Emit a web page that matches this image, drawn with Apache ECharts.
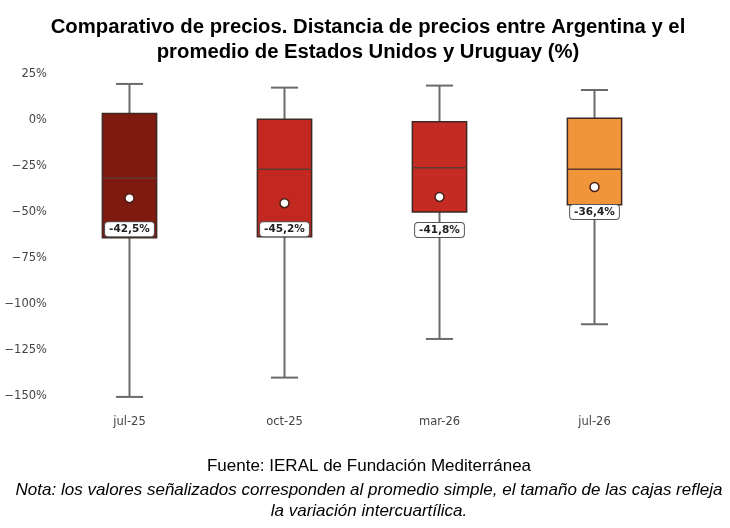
<!DOCTYPE html>
<html>
<head>
<meta charset="utf-8">
<script src="https://cdn.jsdelivr.net/npm/echarts@6/dist/echarts.min.js"></script>
<style>
  html, body { margin: 0; padding: 0; background: #fff; }
  #chart { width: 730px; height: 528px; }
</style>
</head>
<body>
<div id="chart"></div>
<script>
// datos (en %)
const categorias = ['jul-25', 'oct-25', 'mar-26', 'jul-26']
const minimos = [-150.5, -140, -119, -111]
const cuartil1 = [-64, -63.5, -50, -46]
const medianas = [-31.7, -26.7, -26, -26.7]
const cuartil3 = [3.6, 0.4, -0.9, 0.9]
const maximos = [19.6, 17.6, 18.7, 16.3]
const promedios = [-42.5, -45.2, -41.8, -36.4]
const ticksY = [25, 0, -25, -50, -75, -100, -125, -150]

const colores = ['#7e1a10', '#c2281f', '#c42b22', '#f0953a']
const desplazEtiqueta = [31, 26, 33, 25]

const fuenteEje = 'DejaVu Sans'
const fuenteTexto = 'Liberation Sans'

var chartDom = document.getElementById('chart')
var myChart = echarts.init(chartDom)

const datosCajas = categorias.map((c, i) => [i, minimos[i], cuartil1[i], medianas[i], cuartil3[i], maximos[i]])

function dibujaCaja(params, api) {
  const x = api.value(0)
  const lo = api.coord([x, api.value(1)])
  const q1 = api.coord([x, api.value(2)])
  const med = api.coord([x, api.value(3)])
  const q3 = api.coord([x, api.value(4)])
  const hi = api.coord([x, api.value(5)])
  const band = api.size([1, 0])[0]
  const w = band * 0.35
  const cap = w / 2
  const cx = lo[0]
  const bigote = { stroke: '#6b6b6b', lineWidth: 2 }
  return {
    type: 'group',
    children: [
      { type: 'line', shape: { x1: cx, y1: hi[1], x2: cx, y2: q3[1] }, style: bigote },
      { type: 'line', shape: { x1: cx, y1: q1[1], x2: cx, y2: lo[1] }, style: bigote },
      { type: 'line', shape: { x1: cx - cap / 2, y1: hi[1], x2: cx + cap / 2, y2: hi[1] }, style: bigote },
      { type: 'line', shape: { x1: cx - cap / 2, y1: lo[1], x2: cx + cap / 2, y2: lo[1] }, style: bigote },
      {
        type: 'rect',
        shape: { x: cx - w / 2, y: q3[1], width: w, height: q1[1] - q3[1] },
        style: { fill: colores[params.dataIndex], stroke: '#3e2a24', lineWidth: 1.5 }
      },
      {
        type: 'line',
        shape: { x1: cx - w / 2, y1: med[1], x2: cx + w / 2, y2: med[1] },
        style: { stroke: '#5c3a30', lineWidth: 1.5 }
      }
    ]
  }
}

var option = {
  backgroundColor: '#ffffff',
  animation: false,
  title: [
    {
      text: 'Comparativo de precios. Distancia de precios entre Argentina y el\npromedio de Estados Unidos y Uruguay (%)',
      left: 363,
      top: 10,
      textAlign: 'center',
      textStyle: { fontFamily: fuenteTexto, fontSize: 20.3, fontWeight: 'bold', color: '#000', lineHeight: 25 }
    },
    {
      text: 'Fuente: IERAL de Fundación Mediterránea',
      left: 364,
      top: 453,
      textAlign: 'center',
      textStyle: { fontFamily: fuenteTexto, fontSize: 17, fontWeight: 'normal', color: '#000' }
    },
    {
      text: 'Nota: los valores señalizados corresponden al promedio simple, el tamaño de las cajas refleja\nla variación intercuartílica.',
      left: 364,
      top: 475,
      textAlign: 'center',
      textStyle: { fontFamily: fuenteTexto, fontSize: 17, fontWeight: 'normal', fontStyle: 'italic', color: '#000', lineHeight: 21 }
    }
  ],
  grid: { left: 52, right: 58, top: 74, bottom: 132 },
  xAxis: {
    type: 'category',
    data: categorias,
    axisLine: { show: false },
    axisTick: { show: false },
    axisLabel: { fontFamily: fuenteEje, fontSize: 11.5, color: '#444', margin: 20 }
  },
  yAxis: {
    type: 'value',
    min: ticksY[ticksY.length - 1],
    max: ticksY[0],
    interval: 25,
    axisLine: { show: false },
    axisTick: { show: false },
    splitLine: { show: false },
    axisLabel: {
      fontFamily: fuenteEje,
      fontSize: 11.5,
      color: '#444',
      margin: 5,
      formatter: function (v) {
        return (v < 0 ? '\u2212' + Math.abs(v) : v) + '%'
      }
    }
  },
  series: [
    {
      type: 'custom',
      renderItem: dibujaCaja,
      encode: { x: 0, y: [1, 2, 3, 4, 5] },
      data: datosCajas,
      z: 2
    },
    {
      type: 'scatter',
      symbol: 'circle',
      symbolSize: 9,
      z: 3,
      itemStyle: { color: '#fff', borderColor: '#4a1e16', borderWidth: 1.5, opacity: 1 },
      data: promedios.map((v, i) => ({
        value: [i, v],
        label: {
          show: true,
          position: 'inside',
          offset: [0, desplazEtiqueta[i]],
          formatter: v.toFixed(1).replace('.', ',') + '%',
          fontFamily: fuenteEje,
          fontSize: 10.5,
          fontWeight: 'bold',
          color: '#222',
          backgroundColor: '#fff',
          borderColor: '#555',
          borderWidth: 1,
          borderRadius: 3,
          padding: [2, 4, 1, 4]
        }
      }))
    }
  ]
}

option && myChart.setOption(option)
</script>
</body>
</html>
